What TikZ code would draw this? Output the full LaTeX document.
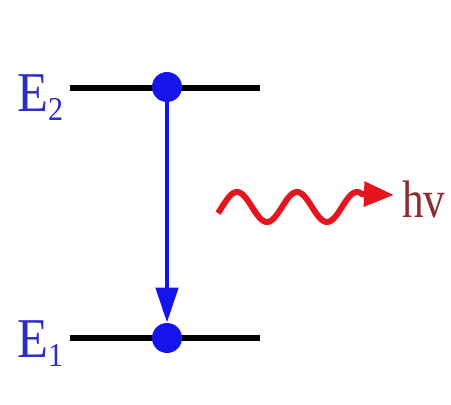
\documentclass[tikz,border=0pt]{standalone}
\usepackage{fontspec}
\setmainfont{Liberation Serif}
\usetikzlibrary{arrows.meta}
\definecolor{lvlblue}{RGB}{20,20,235}
\definecolor{lblblue}{RGB}{45,45,200}
\definecolor{wavered}{RGB}{230,20,30}
\definecolor{hvred}{RGB}{140,45,50}
\begin{document}
\begin{tikzpicture}[x=0.02cm,y=-0.02cm,
  level/.style={line width=0.12cm,black},
  dot/.style={circle,fill=lvlblue,inner sep=0pt,minimum size=0.6cm},
  elabel/.style={anchor=base west,inner sep=0pt,text=lblblue,font=\fontsize{32}{32}\selectfont,xscale=0.9},
  trans/.style={line width=0.09cm,lvlblue,-{Triangle[length=0.7cm,width=0.44cm]}},
  photon/.style={line width=0.12cm,wavered,-{Triangle[length=0.6cm,width=0.48cm]}}]
\useasboundingbox (0,0) rectangle (451,405);
\coordinate (e2l) at (70,88);
\coordinate (e2r) at (260,88);
\coordinate (e1l) at (70,338);
\coordinate (e1r) at (260,338);
\draw[level] (e2l) -- (e2r);
\draw[level] (e1l) -- (e1r);
\node[dot] (d2) at (167,87) {};
\node[dot] (d1) at (167,338) {};
\draw[trans] (d2.center) -- (d1.north);
\node[elabel] (E2) at (17,112) {E\raisebox{-5pt}{\fontsize{19}{19}\selectfont 2}};
\node[elabel] (E1) at (17,358) {E\raisebox{-5pt}{\fontsize{19}{19}\selectfont 1}};
\coordinate (tip) at (394,195);
\draw[photon] plot[domain=218:362,samples=80,smooth] (\x,{207-15*sin(6*(\x-222))}) -- (tip);
\node[anchor=base west,inner sep=0pt,text=hvred,font=\fontsize{30}{30}\selectfont,xscale=0.82] (hv) at (402,218) {hv};
\end{tikzpicture}
\end{document}
